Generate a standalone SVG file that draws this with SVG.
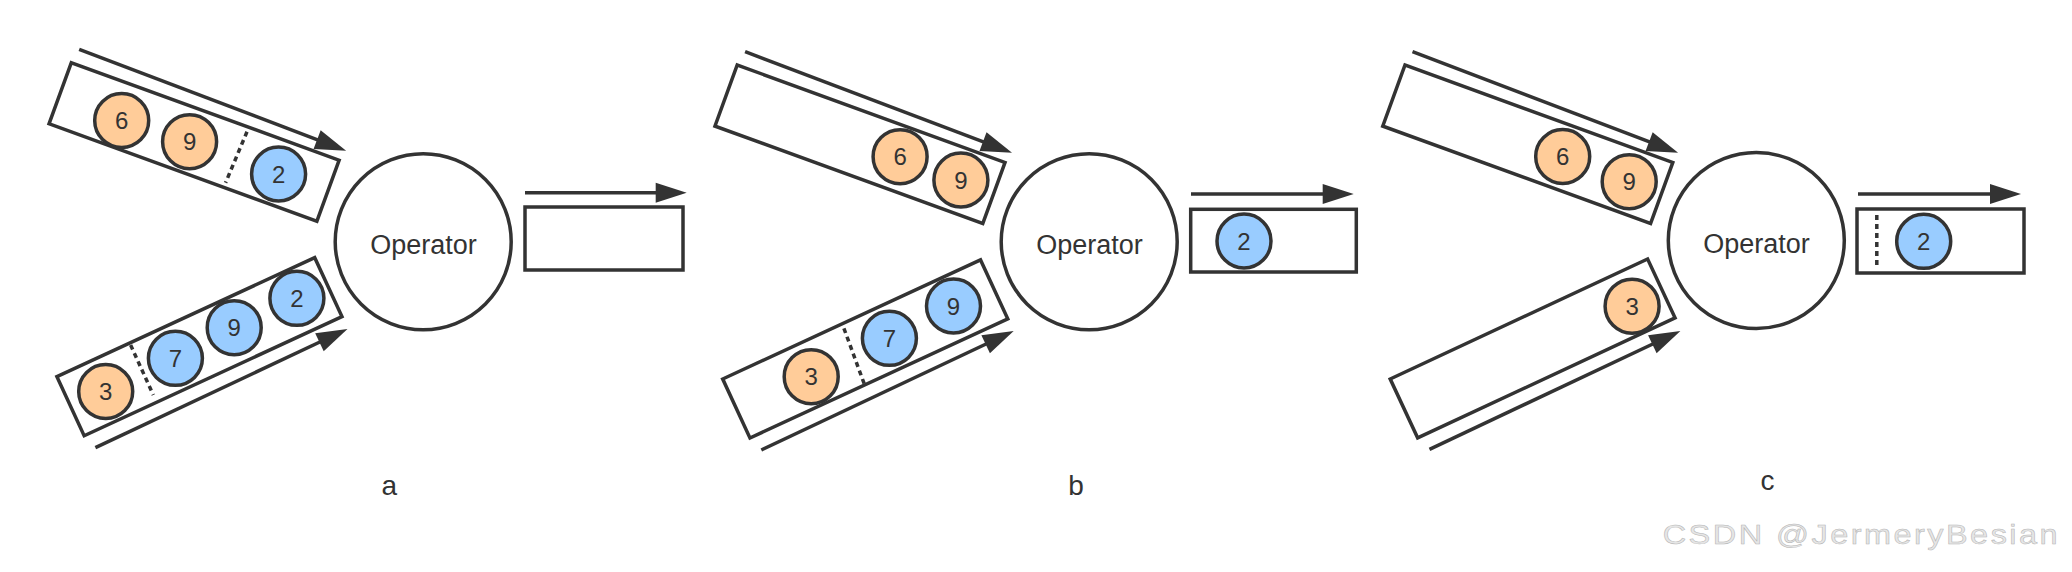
<svg xmlns="http://www.w3.org/2000/svg" width="2072" height="572" viewBox="0 0 2072 572">
<style>
.tube{fill:none;stroke:#333;stroke-width:3.5}
.op{fill:#fff;stroke:#333;stroke-width:3.5}
.or{fill:#FFCC99;stroke:#333;stroke-width:3.5}
.bl{fill:#99CCFF;stroke:#333;stroke-width:3.5}
.num{font-family:"Liberation Sans",Arial,sans-serif;font-size:24px;fill:#333;text-anchor:middle}
.opt{font-family:"Liberation Sans",Arial,sans-serif;font-size:27px;fill:#333;text-anchor:middle}
.lab{font-family:"Liberation Sans",Arial,sans-serif;font-size:28px;fill:#333;text-anchor:middle}
.dot{stroke:#333;stroke-width:3.5;stroke-dasharray:5 4;fill:none}
.arr{stroke:#333;stroke-width:3.5;fill:none;marker-end:url(#ah)}
.wm{font-family:"Liberation Sans",Arial,sans-serif;font-size:27.5px;fill:#e6e6e6;stroke:#b5b5b5;stroke-width:0.5}
</style>
<defs>
<marker id="ah" markerUnits="userSpaceOnUse" viewBox="0 0 31 20" markerWidth="31" markerHeight="20" refX="11" refY="10" orient="auto" overflow="visible">
<path d="M0,0 L31,10 L0,20 z" fill="#333"/>
</marker>
</defs>
<rect x="0" y="0" width="2072" height="572" fill="#fff"/>

<g id="connectors">
<line class="arr" x1="79.2" y1="49.3" x2="327.4" y2="143.6"/>
<line class="arr" x1="95.4" y1="447.7" x2="329.4" y2="337.5"/>
<line class="arr" x1="525" y1="192.7" x2="666.7" y2="192.7"/>
<line class="arr" x1="745.1" y1="51.7" x2="993.3" y2="145.6"/>
<line class="arr" x1="761.3" y1="450" x2="995.6" y2="339.5"/>
<line class="arr" x1="1191" y1="194" x2="1333.7" y2="194"/>
<line class="arr" x1="1412.5" y1="51.7" x2="1659.4" y2="145.6"/>
<line class="arr" x1="1429.5" y1="449.3" x2="1662.3" y2="339.5"/>
<line class="arr" x1="1858" y1="194" x2="2001" y2="194"/>
</g>

<!-- Panel a -->
<g id="a-upper-queue">
<rect class="tube" x="0" y="0" width="285" height="65" transform="translate(71.3,62.7) rotate(20)"/>
<circle class="or" cx="121.7" cy="120.5" r="27"/><text class="num" x="121.7" y="129">6</text>
<circle class="or" cx="189.6" cy="141.7" r="27"/><text class="num" x="189.6" y="150.2">9</text>
<line class="dot" x1="247" y1="131.7" x2="225.6" y2="182.7"/>
<circle class="bl" cx="278.6" cy="174" r="27"/><text class="num" x="278.6" y="182.5">2</text>
</g>
<g id="a-lower-queue">
<rect class="tube" x="0" y="0" width="284" height="65" transform="translate(56.9,376.7) rotate(-24.8)"/>
<circle class="or" cx="105.7" cy="391.5" r="27"/><text class="num" x="105.7" y="400">3</text>
<line class="dot" x1="130.6" y1="345" x2="153.3" y2="395"/>
<circle class="bl" cx="175.4" cy="358.3" r="27"/><text class="num" x="175.4" y="366.8">7</text>
<circle class="bl" cx="234.2" cy="327.7" r="27"/><text class="num" x="234.2" y="336.2">9</text>
<circle class="bl" cx="296.9" cy="298.3" r="27"/><text class="num" x="296.9" y="306.8">2</text>
</g>
<g id="a-operator">
<circle class="op" cx="423.2" cy="241.7" r="88"/>
<text class="opt" x="423.5" y="254">Operator</text>
</g>
<g id="a-output">
<rect class="tube" x="525" y="207" width="158" height="63"/>
</g>
<text id="label-a" class="lab" x="389.3" y="495">a</text>

<!-- Panel b -->
<g id="b-upper-queue">
<rect class="tube" x="0" y="0" width="285" height="65" transform="translate(737.2,65) rotate(20)"/>
<circle class="or" cx="900.1" cy="156.7" r="27"/><text class="num" x="900.1" y="165.2">6</text>
<circle class="or" cx="960.9" cy="180" r="27"/><text class="num" x="960.9" y="188.5">9</text>
</g>
<g id="b-lower-queue">
<rect class="tube" x="0" y="0" width="284" height="65" transform="translate(722.7,379) rotate(-24.8)"/>
<circle class="or" cx="811.2" cy="376.7" r="27"/><text class="num" x="811.2" y="385.2">3</text>
<line class="dot" x1="843.9" y1="328.3" x2="865" y2="386"/>
<circle class="bl" cx="889.4" cy="338.3" r="27"/><text class="num" x="889.4" y="346.8">7</text>
<circle class="bl" cx="953.5" cy="306" r="27"/><text class="num" x="953.5" y="314.5">9</text>
</g>
<g id="b-operator">
<circle class="op" cx="1089.2" cy="241.7" r="88"/>
<text class="opt" x="1089.5" y="254">Operator</text>
</g>
<g id="b-output">
<rect class="tube" x="1190.7" y="209.3" width="165.6" height="62.7"/>
<circle class="bl" cx="1244" cy="241" r="27"/><text class="num" x="1244" y="249.5">2</text>
</g>
<text id="label-b" class="lab" x="1076" y="495">b</text>

<!-- Panel c -->
<g id="c-upper-queue">
<rect class="tube" x="0" y="0" width="285" height="65" transform="translate(1405,65) rotate(20)"/>
<circle class="or" cx="1562.7" cy="156.5" r="27"/><text class="num" x="1562.7" y="165">6</text>
<circle class="or" cx="1629.2" cy="181.7" r="27"/><text class="num" x="1629.2" y="190.2">9</text>
</g>
<g id="c-lower-queue">
<rect class="tube" x="0" y="0" width="284" height="65" transform="translate(1390.2,379) rotate(-25)"/>
<circle class="or" cx="1632.1" cy="306.2" r="27"/><text class="num" x="1632.1" y="314.7">3</text>
</g>
<g id="c-operator">
<circle class="op" cx="1756.3" cy="240.5" r="88"/>
<text class="opt" x="1756.6" y="253">Operator</text>
</g>
<g id="c-output">
<rect class="tube" x="1857" y="209" width="167" height="64"/>
<line class="dot" x1="1876.8" y1="215" x2="1876.8" y2="268.3"/>
<circle class="bl" cx="1923.7" cy="241.3" r="27"/><text class="num" x="1923.7" y="249.8">2</text>
</g>
<text id="label-c" class="lab" x="1767.5" y="490">c</text>

<text id="watermark" class="wm" transform="translate(1662.7,543.5) scale(1.18,1)" x="0" y="0" textLength="334.7" lengthAdjust="spacing">CSDN @JermeryBesian</text>
</svg>
